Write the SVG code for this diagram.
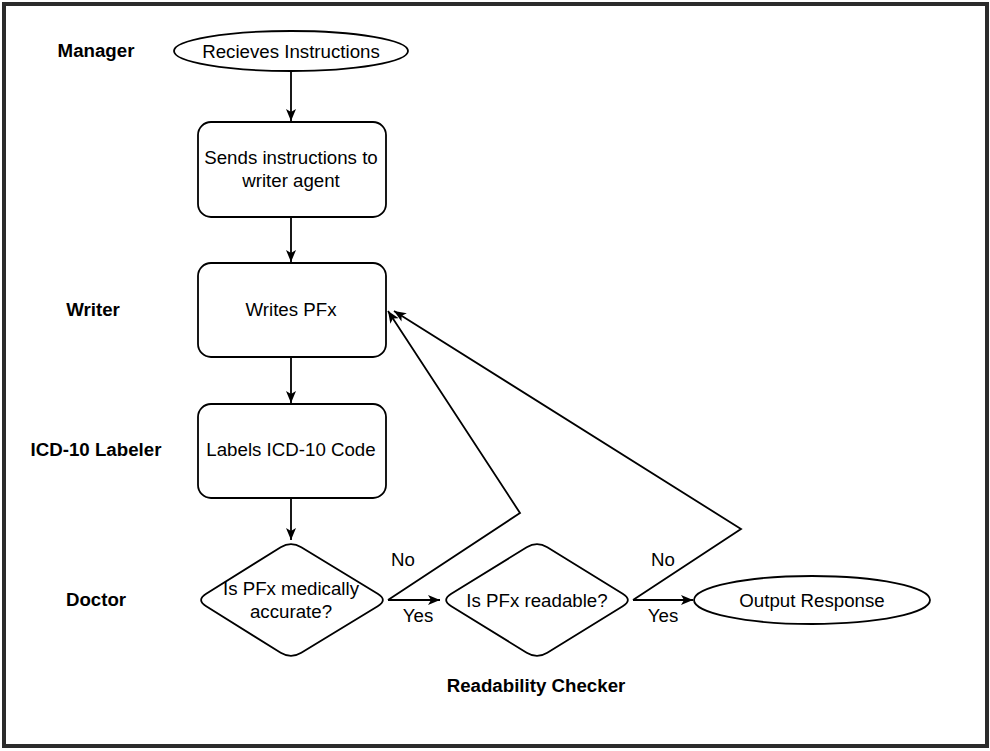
<svg xmlns="http://www.w3.org/2000/svg" width="990" height="751" viewBox="0 0 990 751">
<style>
.shape{fill:#fff;stroke:#000;stroke-width:1.8}
.conn{fill:none;stroke:#000;stroke-width:1.8}
.t{font-family:"Liberation Sans",Arial,sans-serif;font-size:18.7px;fill:#000;text-anchor:middle}
.lb{font-family:"Liberation Sans",Arial,sans-serif;font-size:18.7px;font-weight:bold;fill:#000;text-anchor:middle}
</style>
<defs>
<marker id="arr" viewBox="0 0 12 10" refX="12" refY="5" markerWidth="12" markerHeight="10" markerUnits="userSpaceOnUse" orient="auto">
<path d="M0,0 L12,5 L0,10 L3,5 Z" fill="#000"/>
</marker>
</defs>
<rect x="0" y="0" width="990" height="751" fill="#fff"/>
<rect x="4" y="4" width="983" height="742" fill="none" stroke="#2b2b2b" stroke-width="4"/>

<g id="lane-labels">
<text class="lb" x="96" y="57">Manager</text>
<text class="lb" x="93" y="316">Writer</text>
<text class="lb" x="96" y="456">ICD-10 Labeler</text>
<text class="lb" x="96" y="606">Doctor</text>
<text class="lb" x="536" y="692">Readability Checker</text>
</g>

<g id="connectors">
<line class="conn" x1="291" y1="71" x2="291" y2="121" marker-end="url(#arr)"/>
<line class="conn" x1="291" y1="217" x2="291" y2="262" marker-end="url(#arr)"/>
<line class="conn" x1="291" y1="357" x2="291" y2="403" marker-end="url(#arr)"/>
<line class="conn" x1="291" y1="498" x2="291" y2="540" marker-end="url(#arr)"/>
<line class="conn" x1="388" y1="600" x2="440" y2="600" marker-end="url(#arr)"/>
<line class="conn" x1="633" y1="600" x2="693" y2="600" marker-end="url(#arr)"/>
<path class="conn" d="M388,600 L520,513 L388,311" marker-end="url(#arr)"/>
<path class="conn" d="M633,600 L741,529 L394,311" marker-end="url(#arr)"/>
<text class="t" x="403" y="566">No</text>
<text class="t" x="418" y="622">Yes</text>
<text class="t" x="663" y="566">No</text>
<text class="t" x="663" y="622">Yes</text>
</g>

<g id="receive">
<ellipse class="shape" cx="291" cy="51" rx="117" ry="20"/>
<text class="t" x="291" y="58">Recieves Instructions</text>
</g>

<g id="send">
<rect class="shape" x="198" y="122" width="188" height="95" rx="13" ry="13"/>
<text class="t" x="291" y="164">Sends instructions to</text>
<text class="t" x="291" y="187">writer agent</text>
</g>

<g id="write">
<rect class="shape" x="198" y="263" width="188" height="94" rx="13" ry="13"/>
<text class="t" x="291" y="316">Writes PFx</text>
</g>

<g id="label">
<rect class="shape" x="198" y="404" width="188" height="94" rx="13" ry="13"/>
<text class="t" x="291" y="456">Labels ICD-10 Code</text>
</g>

<g id="medical">
<path class="shape" d="M280.7,547.2 Q291,541 301.3,547.2 L377.7,593.8 Q388,600 377.7,606.2 L301.3,652.8 Q291,659 280.7,652.8 L206.2,606.3 Q196,600 206.2,593.7 Z"/>
<text class="t" x="291" y="595">Is PFx medically</text>
<text class="t" x="291" y="618">accurate?</text>
</g>

<g id="readable">
<path class="shape" d="M526.7,547.3 Q537,541 547.3,547.3 L622.7,593.7 Q633,600 622.7,606.3 L547.3,652.7 Q537,659 526.7,652.7 L451.3,606.3 Q441,600 451.3,593.7 Z"/>
<text class="t" x="537" y="607">Is PFx readable?</text>
</g>

<g id="output">
<ellipse class="shape" cx="812" cy="600" rx="118" ry="24"/>
<text class="t" x="812" y="607">Output Response</text>
</g>
</svg>
